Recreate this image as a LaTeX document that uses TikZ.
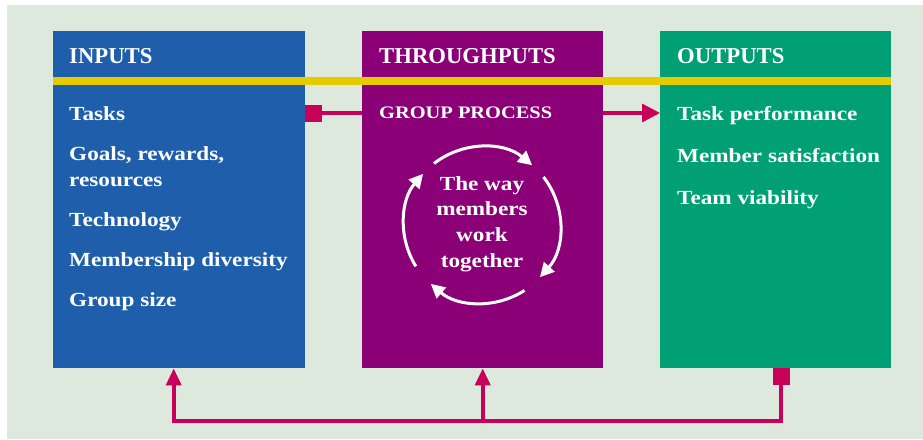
\documentclass[tikz,border=0pt]{standalone}
\usepackage{fontspec}
\setmainfont{Liberation Serif}
\newfontfamily\bodyfont[FakeStretch=1.16]{Liberation Serif}
\usetikzlibrary{arrows.meta,calc}
\definecolor{bg}{HTML}{DEE9DE}
\definecolor{inblue}{HTML}{1F5EAA}
\definecolor{thpurple}{HTML}{8B0077}
\definecolor{outgreen}{HTML}{00A074}
\definecolor{band}{HTML}{E5CB00}
\definecolor{conncol}{HTML}{C8005A}
\tikzset{
  panel/.style={draw=none, minimum height=337pt, inner sep=0pt, anchor=north west},
  head/.style={text=white, anchor=base west, inner sep=0pt, font=\fontsize{22.7}{24}\selectfont\bfseries},
  item/.style={text=white, anchor=base west, inner sep=0pt, font=\bodyfont\fontsize{20}{26}\selectfont\bfseries, align=left},
  subitem/.style={text=white, anchor=base west, inner sep=0pt, font=\bodyfont\fontsize{17.6}{20}\selectfont\bfseries},
  ctext/.style={text=white, anchor=base, inner sep=0pt, font=\bodyfont\fontsize{20}{26}\selectfont\bfseries},
  conn/.style={draw=conncol, line width=3.4pt},
  bus/.style={draw=conncol, line width=3.8pt},
  sqtip/.style={{Square[length=17pt,width=17pt]}-},
  sqtri/.style={{Square[length=17pt,width=17pt]}-{Triangle[length=17pt,width=15pt]}},
  tritip/.style={-{Triangle[length=18pt,width=18pt]}},
  uptip/.style={-{Triangle[length=17pt,width=15pt]}},
  cyc/.style={draw=white, line width=3pt, -{Triangle[length=14pt,width=14pt]}},
}
\begin{document}
\begin{tikzpicture}[x=1pt,y=-1pt]
\useasboundingbox (0,0) rectangle (923,439);
\fill[bg] (7,5) rectangle (923,439);
% panels
\node[panel, fill=inblue, minimum width=252pt] (inp) at (53,31) {};
\node[panel, fill=thpurple, minimum width=241pt] (thr) at (362,31) {};
\node[panel, fill=outgreen, minimum width=231pt] (out) at (660,31) {};
\fill[band] (inp.north west |- 0,77) rectangle (out.north east |- 0,85);
% headers
\node[head] (hin) at (69,63) {INPUTS};
\node[head] (hth) at (379,63) {THROUGHPUTS};
\node[head] (hout) at (677,63) {OUTPUTS};
% input items
\node[item] (i1) at (69,120) {Tasks};
\node[item] (i2) at (69,186.5) {Goals, rewards,\\resources};
\node[item] (i3) at (69,226.7) {Technology};
\node[item] (i4) at (69,266.7) {Membership diversity};
\node[item] (i5) at (69,306.7) {Group size};
% outputs
\node[item] (o1) at (677,120) {Task performance};
\node[item] (o2) at (677,162) {Member satisfaction};
\node[item] (o3) at (677,204.5) {Team viability};
% throughputs
\node[subitem] (gp) at (379,118.3) {GROUP PROCESS};
\coordinate (cc) at (482,225);
\node[ctext] (c1) at (482,190) {The way};
\node[ctext] (c2) at (482,215.5) {members};
\node[ctext] (c3) at (482,241.5) {work};
\node[ctext] (c4) at (482,267) {together};
\draw[cyc] ([shift={(128:78pt)}]cc) arc[start angle=128, end angle=50, radius=78pt];
\draw[cyc] ([shift={(38:78pt)}]cc) arc[start angle=38, end angle=-42, radius=78pt];
\draw[cyc] ([shift={(-57:78pt)}]cc) arc[start angle=-57, end angle=-131, radius=78pt];
\draw[cyc] ([shift={(-148:78pt)}]cc) arc[start angle=-148, end angle=-221, radius=78pt];
% top connectors
\coordinate (row) at (0,113);
\draw[conn, sqtip] (inp.east |- row) -- (thr.west |- row);
\draw[conn, tritip] (thr.east |- row) -- (out.west |- row);
% bottom feedback bus
\coordinate (busy) at (0,421);
\draw[bus, sqtri] ([xshift=5.5pt]out.south) -- ([xshift=5.5pt]out.south |- busy) -| ([xshift=-5.5pt]inp.south);
\draw[bus, uptip] (thr.south |- busy) -- (thr.south);
\end{tikzpicture}
\end{document}
